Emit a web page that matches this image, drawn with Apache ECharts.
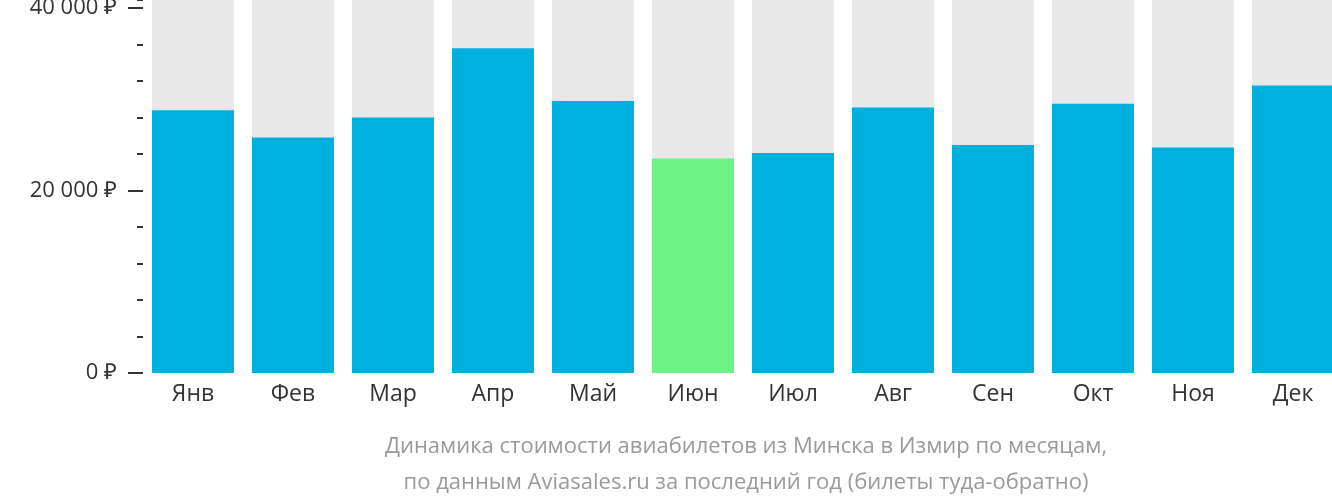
<!DOCTYPE html>
<html>
<head>
<meta charset="utf-8">
<script src="https://cdn.jsdelivr.net/npm/echarts@6/dist/echarts.min.js"></script>
<style>html,body{margin:0;padding:0;background:#fff}#chart{width:1332px;height:502px}</style>
</head>
<body>
<div id="chart"></div>
<script>
var months = ['Янв', 'Фев', 'Мар', 'Апр', 'Май', 'Июн', 'Июл', 'Авг', 'Сен', 'Окт', 'Ноя', 'Дек'];
var prices = [28800, 25800, 28000, 35600, 29800, 23500, 24100, 29100, 25000, 29500, 24700, 31500];
var cheapestIndex = 5;
var titleLines = ['Динамика стоимости авиабилетов из Минска в Измир по месяцам,',
    'по данным Aviasales.ru за последний год (билеты туда-обратно)'];

var yTop = 40877; // axis extends a little past 40 000 so the grey columns reach the top
function rub(v) {
    if (v % 20000 !== 0) return '';
    return v === 0 ? '0 ₽' : String(v).replace(/(\d)(?=(\d{3})+$)/g, '$1 ') + ' ₽';
}

var chart = echarts.init(document.getElementById('chart'));
chart.setOption({
    animation: false,
    textStyle: {fontFamily: 'Open Sans'},
    grid: {left: 143, width: 1200, top: 0, bottom: 129, outerBoundsMode: 'none'},
    title: {
        text: titleLines.join('\n'),
        left: 741, top: 424, textAlign: 'center',
        textStyle: {color: '#9a9a9a', fontSize: 22, fontWeight: 'normal', lineHeight: 36, fontFamily: 'Open Sans'}
    },
    xAxis: {
        type: 'category', data: months,
        axisLine: {show: false}, axisTick: {show: false},
        axisLabel: {color: '#333', fontSize: 23, margin: 10}
    },
    yAxis: [{
        type: 'value', min: 0, max: yTop, interval: 20000,
        axisLine: {show: false}, splitLine: {show: false},
        axisTick: {show: true, length: 15, lineStyle: {color: '#333', width: 2}},
        axisLabel: {color: '#333', fontSize: 22, margin: 26, formatter: rub, showMaxLabel: false,
            verticalAlign: 'middle', padding: [6, 0, 0, 0]}
    }, {
        type: 'value', min: 0, max: yTop, interval: 4000, position: 'left',
        axisLine: {show: false}, splitLine: {show: false},
        axisTick: {show: true, length: 6, lineStyle: {color: '#333', width: 2}},
        axisLabel: {show: false}
    }],
    series: [{
        type: 'bar', barWidth: '82%',
        showBackground: true, backgroundStyle: {color: '#e8e8e8'},
        data: prices.map(function (v, i) {
            return {value: v, itemStyle: {color: i === cheapestIndex ? '#6cf287' : '#00b0dc'}};
        })
    }]
});
</script>
</body>
</html>
